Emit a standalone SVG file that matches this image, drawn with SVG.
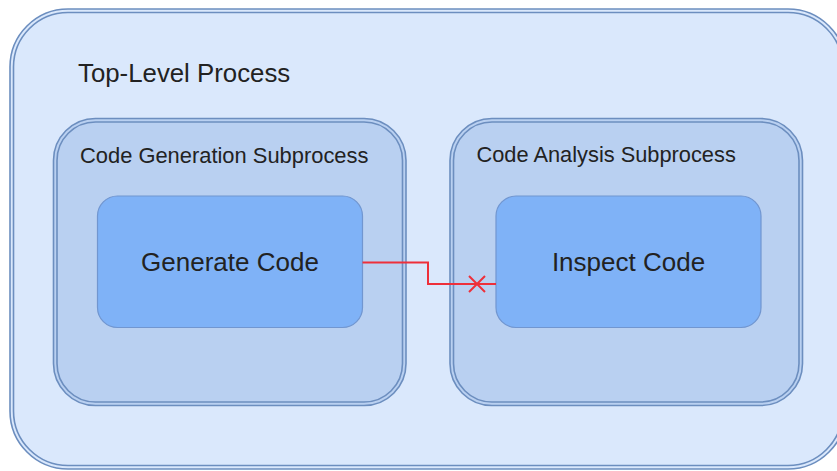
<svg xmlns="http://www.w3.org/2000/svg" width="837" height="471" viewBox="0 0 837 471">
<defs>
<style>
.dbl{stroke:#6c8ebf;stroke-width:1.6}
.line{fill:none}
.outer{fill:#dae8fc}
.sub{fill:#b9d0f1}
.task{fill:#7fb2f7;stroke:#7196d0;stroke-width:1.2}
.lbl{font-family:"Liberation Sans",Arial,sans-serif;fill:#222}
.conn{fill:none;stroke:#ee2f3a;stroke-width:2}
</style>
</defs>
<rect width="837" height="471" fill="#ffffff"/>
<g id="top-level-process">
<rect x="10" y="9" width="836" height="460" rx="58" ry="58" class="dbl outer"/>
<rect x="13.5" y="12.5" width="829" height="453" rx="54.5" ry="54.5" class="dbl line"/>
<text class="lbl" x="78" y="82" font-size="25.8">Top-Level Process</text>
</g>
<g id="code-generation-subprocess">
<rect x="53.5" y="118.5" width="352.5" height="287" rx="42" ry="42" class="dbl sub"/>
<rect x="57" y="122" width="345.5" height="280" rx="38.5" ry="38.5" class="dbl line"/>
<text class="lbl" x="80" y="162.5" font-size="21.9">Code Generation Subprocess</text>
</g>
<g id="code-analysis-subprocess">
<rect x="450" y="118.5" width="352.5" height="287" rx="42" ry="42" class="dbl sub"/>
<rect x="453.5" y="122" width="345.5" height="280" rx="38.5" ry="38.5" class="dbl line"/>
<text class="lbl" x="476.5" y="162" font-size="21.8">Code Analysis Subprocess</text>
</g>
<g id="generate-code">
<rect x="97.5" y="196" width="265" height="131.5" rx="20" ry="20" class="task"/>
<text class="lbl" x="230" y="270.5" font-size="26" text-anchor="middle">Generate Code</text>
</g>
<g id="inspect-code">
<rect x="496" y="196" width="265" height="131.5" rx="20" ry="20" class="task"/>
<text class="lbl" x="628.5" y="270.5" font-size="26" text-anchor="middle">Inspect Code</text>
</g>
<g id="connectors">
<path class="conn" d="M362.5 262.5 H428 V284 H496"/>
<path class="conn" d="M469 276 L485 292 M485 276 L469 292"/>
</g>
</svg>
